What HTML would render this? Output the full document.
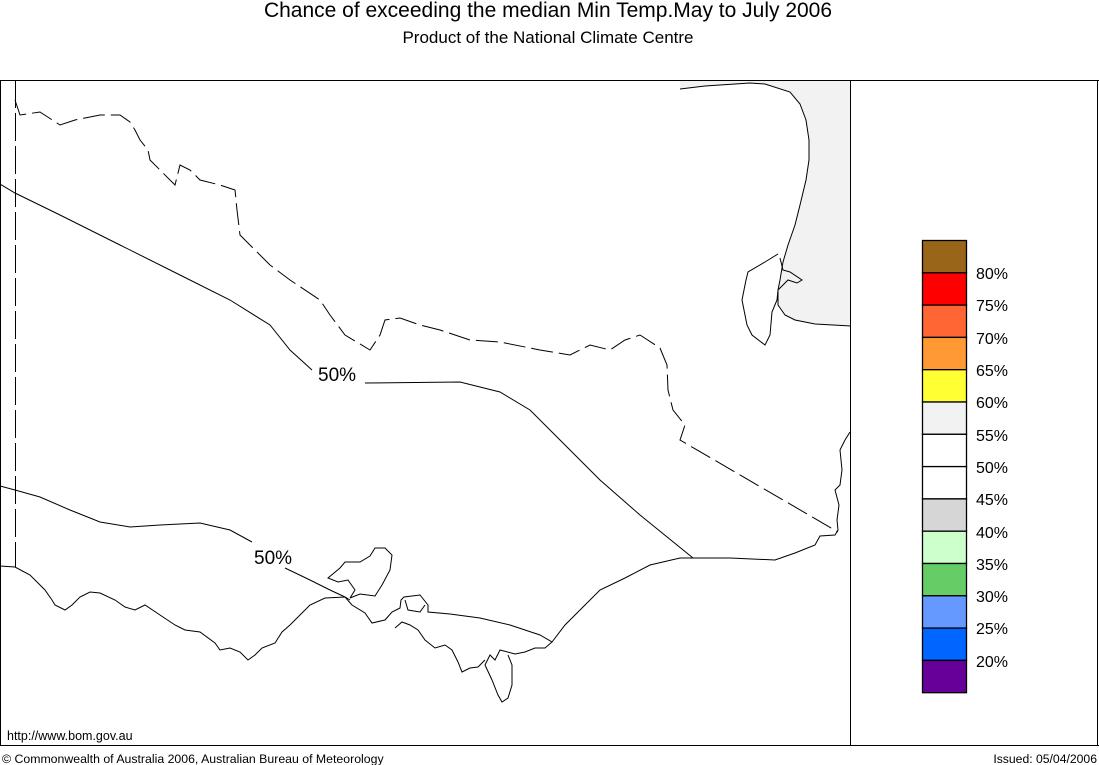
<!DOCTYPE html>
<html><head><meta charset="utf-8"><style>
html,body{margin:0;padding:0;background:#fff;}
svg{display:block;font-family:"Liberation Sans",Arial,sans-serif;}
</style></head><body>
<svg width="1099" height="765" viewBox="0 0 1099 765" xmlns="http://www.w3.org/2000/svg">
<rect width="1099" height="765" fill="#fff"/>
<text x="548" y="17" font-size="21" text-anchor="middle">Chance of exceeding the median Min Temp.May to July 2006</text>
<text x="548" y="43" font-size="17" text-anchor="middle">Product of the National Climate Centre</text>

<path d="M680,89 L705,86 L750,83 L765,84 L790,92 L800,104 L806,120 L809,140 L809,160 L806,180 L800,205 L795,225 L788,245 L783,262 L780,280 L778,290 L778,305 L785,315 L795,320 L815,324 L851,326 L851,80 L680,80 Z" fill="#f2f2f2"/>
<polyline points="680,89 705,86 750,83 765,84 790,92 800,104 806,120 809,140 809,160 806,180 800,205 795,225 788,245 783,262 780,280 778,290 778,305 785,315 795,320 815,324 851,326" fill="none" stroke="#000" stroke-width="1"/>
<polyline points="778,254 765,262 748,272 746,280 742,300 745,315 747,325 752,335 765,345 770,335 772,312 777,300 778,290" fill="none" stroke="#000"/>
<polyline points="780,258 783,270 790,272 802,280 797,283 788,280 778,290" fill="none" stroke="#000"/>

<rect x="0.5" y="80.5" width="850" height="665" fill="none" stroke="#000"/>
<line x1="851" y1="80.5" x2="1099" y2="80.5" stroke="#000"/>
<line x1="1097.5" y1="80" x2="1097.5" y2="746" stroke="#000"/>
<line x1="851" y1="745.5" x2="1099" y2="745.5" stroke="#000"/>

<line x1="15.5" y1="80" x2="15.5" y2="567" stroke="#000" stroke-dasharray="28,5"/>

<polyline points="15,100 20,115 40,112 60,125 75,120 85,118 100,115 120,115 130,122 135,130 140,140 148,150 150,160 160,170 175,185 180,165 190,170 200,180 220,185 235,190 237,210 240,235 255,250 270,265 290,280 320,300 330,315 345,335 370,350 380,335 385,320 400,318 420,325 440,330 470,340 500,342 540,350 570,355 590,345 610,350 625,340 640,335 660,348 667,365 668,390 673,410 685,425 680,440 838,532" fill="none" stroke="#000" stroke-dasharray="22,6"/>

<polyline points="625,578 650,565 680,558 730,558 775,560 795,553 815,545 820,536 835,535 838,530 837,520 839,505 835,490 840,485 842,470 840,450 845,440 850,432" fill="none" stroke="#000"/>

<polyline points="0,184 15,193 60,215 120,245 180,275 230,300 270,325 290,350 312,370" fill="none" stroke="#000"/>
<text x="318" y="381" font-size="19">50%</text>
<polyline points="365,383 460,382 500,392 530,410 560,440 600,480 640,515 693,558" fill="none" stroke="#000"/>

<polyline points="0,486 15,490 40,497 70,510 100,522 130,527 160,525 200,523 230,530 252,542" fill="none" stroke="#000"/>
<text x="254" y="564" font-size="19">50%</text>
<polyline points="285,568 310,580 330,590 345,597 350,600" fill="none" stroke="#000"/>

<polyline points="0,566 15,567 30,575 45,590 52,600 55,605 65,610 72,605 80,597 90,592 100,593 115,600 125,607 135,610 145,605 160,615 175,625 185,630 200,632 215,643 220,650 230,648 240,652 248,660 255,655 262,648 275,643 282,632 290,625 300,615 310,605 325,598 345,597 352,605 365,613 372,623 385,620 392,612 400,608 401,600 404,597 420,595 428,605 428,612 450,614 480,618 510,625 540,635 552,642 545,648 535,648 525,652 515,654 500,650 495,660 490,655 485,665 492,680 498,695 502,702 508,698 512,685 512,665 508,655" fill="none" stroke="#000"/>
<polyline points="552,642 565,625 580,610 600,590 625,578" fill="none" stroke="#000"/>
<polyline points="350,598 360,594 375,596 382,585 390,570 392,555 385,548 375,548 370,556 360,562 345,562 340,568 328,578 338,582 348,580 355,590 350,598" fill="none" stroke="#000"/>
<polyline points="395,628 402,622 410,625 418,630 425,640 435,648 445,645 452,650 458,662 462,672 470,668 478,667 485,660" fill="none" stroke="#000"/>
<polyline points="405,600 408,610 420,612 425,605" fill="none" stroke="#000"/>

<g stroke="#000" stroke-width="1.3">
<rect x="922.5" y="240.5" width="44" height="32.3" fill="#996619"/>
<rect x="922.5" y="272.8" width="44" height="32.3" fill="#ff0000"/>
<rect x="922.5" y="305.1" width="44" height="32.3" fill="#ff6633"/>
<rect x="922.5" y="337.4" width="44" height="32.3" fill="#ff9933"/>
<rect x="922.5" y="369.7" width="44" height="32.3" fill="#ffff33"/>
<rect x="922.5" y="402.0" width="44" height="32.3" fill="#f2f2f2"/>
<rect x="922.5" y="434.3" width="44" height="32.3" fill="#ffffff"/>
<rect x="922.5" y="466.6" width="44" height="32.3" fill="#ffffff"/>
<rect x="922.5" y="498.9" width="44" height="32.3" fill="#d6d6d6"/>
<rect x="922.5" y="531.2" width="44" height="32.3" fill="#ccffcc"/>
<rect x="922.5" y="563.5" width="44" height="32.3" fill="#66cc66"/>
<rect x="922.5" y="595.8" width="44" height="32.3" fill="#6699ff"/>
<rect x="922.5" y="628.1" width="44" height="32.3" fill="#0066ff"/>
<rect x="922.5" y="660.4" width="44" height="32.3" fill="#660099"/>
</g>
<g font-size="16" fill="#000">
<text x="976" y="279">80%</text>
<text x="976" y="311">75%</text>
<text x="976" y="344">70%</text>
<text x="976" y="376">65%</text>
<text x="976" y="408">60%</text>
<text x="976" y="441">55%</text>
<text x="976" y="473">50%</text>
<text x="976" y="505">45%</text>
<text x="976" y="538">40%</text>
<text x="976" y="570">35%</text>
<text x="976" y="602">30%</text>
<text x="976" y="634">25%</text>
<text x="976" y="667">20%</text>
</g>

<text x="7" y="740" font-size="12.5">http://www.bom.gov.au</text>
<text x="2" y="763" font-size="12.3">© Commonwealth of Australia 2006, Australian Bureau of Meteorology</text>
<text x="1097" y="763" font-size="12.2" text-anchor="end">Issued: 05/04/2006</text>
</svg>
</body></html>
